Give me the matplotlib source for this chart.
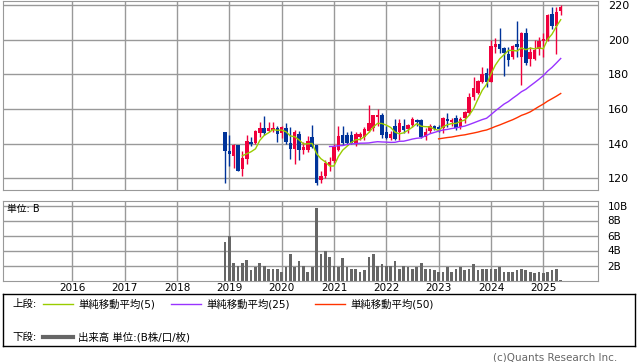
import matplotlib
matplotlib.use("Agg")
import matplotlib.pyplot as plt
import numpy as np
import pandas as pd

plt.rcParams['font.family'] = ['DejaVu Sans', 'Noto Sans CJK JP']

# monthly bars, Dec 2018 .. May 2025
months = pd.date_range('2018-12-01', periods=78, freq='MS')

opens = [146.5, 135.5, 133, 139, 125.5, 131, 141, 140.5, 146, 149, 147.3, 148, 149,
         146, 149, 140.4, 137, 145.6, 136.3, 136.3, 143.8, 139, 119, 121.5, 127.5,
         130, 136.5, 145, 144.8, 145, 140.6, 143.7, 144, 147.5, 149.2, 155.6, 156.5,
         146.5, 143.4, 150.4, 146.5, 150.2, 148.4, 150.6, 153.6, 153.6, 144, 147.3, 150.2,
         149.8, 148.8, 154, 152.5, 154.6, 149.4, 154.6, 157.5, 166.7, 169, 175.8, 181,
         175.8, 196, 197.5, 195, 191.7, 189.8, 197.5, 189.8, 203.6, 188.6, 188.6, 194.4, 199.4,
         199.4, 214.8, 208, 216.5]
highs = [146.8, 145, 140, 139.5, 136, 145, 144, 148, 152.5, 156, 152.5, 152.5, 150,
         150.2, 152, 149.6, 148, 147.3, 141, 144.4, 150.8, 139.5, 124, 130.5, 132.5,
         140, 150, 150.2, 147, 147.5, 146.7, 147, 149.4, 162.3, 156.5, 160, 157.5,
         150.2, 147.3, 154, 154.5, 154, 151.5, 155.5, 154.5, 154.5, 148.8, 151.3, 151,
         150.8, 155.2, 157.5, 155, 156.5, 155.5, 159, 169, 178.3, 176.8, 184, 183.5,
         199.8, 201, 206.5, 196, 196, 197, 211, 204.6, 206.5, 196, 200, 201.5, 203.6,
         214.8, 219, 219, 220]
lows = [117.5, 127, 126, 124, 121.5, 128, 138.5, 140, 144, 145, 146.5, 147, 141,
        143.4, 139.8, 131, 128.3, 130.6, 134, 135.3, 137.5, 116, 117.5, 120, 124.5,
        128.7, 135.5, 139.5, 139, 139.8, 138.8, 142, 142.3, 147, 147.5, 150, 143,
        142.5, 142, 142, 142, 146, 146, 149.8, 150.4, 143, 142, 146, 147.6,
        147, 146, 149.8, 150, 148, 148.5, 152, 156.5, 165.2, 168.5, 175, 172.5,
        175.5, 192.5, 192.1, 179, 184.8, 189, 190.2, 173.8, 185.4, 184.8, 188, 191, 190,
        199, 206, 192, 214]
closes = [136, 134, 139, 124.5, 131.7, 141.5, 140, 147.3, 149, 146, 149, 149, 145.6,
          149.6, 141, 137, 146.7, 136.4, 138, 141.5, 138, 117.5, 121.5, 129, 129.5,
          138, 144.5, 140.2, 140.2, 140.6, 145.6, 145.6, 148.2, 151.9, 156.3, 156.5, 145.2,
          143.4, 145.4, 142.7, 151.7, 148, 151, 154.4, 152.7, 144, 146.9, 150.2, 148.4,
          148.4, 154.6, 153, 153.5, 148.8, 154.4, 158.3, 167.1, 171.9, 176.3, 180.2, 175.8,
          196.5, 197.5, 194.6, 192.1, 188.3, 196.3, 196, 203.6, 186.7, 193.1, 194, 199.4, 200.2,
          214.2, 207.9, 216.2, 219]
# volume, unit B
volume = [5.2,
          5.9, 2.3, 1.95, 2.4, 2.8, 1.4, 1.8, 2.4, 2.0, 1.6, 1.6, 1.5,
          1.1, 1.8, 3.5, 1.8, 2.6, 1.95, 1.2, 1.8, 9.7, 3.5, 3.9, 3.1,
          2.0, 1.8, 3.0, 1.8, 1.6, 1.6, 1.2, 1.4, 3.1, 3.6, 2.0, 2.2,
          1.9, 2.0, 2.6, 1.6, 1.9, 1.8, 1.5, 1.8, 2.3, 1.6, 1.6, 1.4,
          1.2, 1.2, 1.8, 1.1, 1.6, 1.8, 1.4, 1.6, 2.2, 1.4, 1.6, 1.5,
          1.6, 1.6, 1.8, 1.2, 1.2, 1.15, 1.4, 1.6, 1.4, 1.2, 1.0, 1.1,
          1.0, 1.15, 1.4, 1.5, 0.1]

years = list(range(2016, 2026))
price_ticks = [120, 140, 160, 180, 200, 220]
vol_ticks = [2, 4, 6, 8, 10]
vol_labels = ['2B', '4B', '6B', '8B', '10B']

W, H = 638, 362
RED = '#f0003c'
BLUE = '#003399'
GRID = '#999999'


def box(x0, y0, x1, y1):
    return [x0 / W, 1 - y1 / H, (x1 - x0) / W, (y1 - y0) / H]


x = np.arange(len(months))
o, h, l, c = map(np.array, (opens, highs, lows, closes))
cols = np.where(c >= o, RED, BLUE)
# month index of each January (Dec 2018 = 0)
year_x = [(y - months[0].year) * 12 + 1 - months[0].month for y in years]

fig = plt.figure(figsize=(W / 100, H / 100), dpi=100)

# price panel
ax = fig.add_axes(box(3, 1, 598, 190))
ax.set_xlim(-50.9, 85.55)
ax.set_ylim(113.25, 222.3)
for yv in price_ticks:
    ax.axhline(yv, color=GRID, lw=1, zorder=0)
for xv in year_x:
    ax.axvline(xv, color=GRID, lw=1, zorder=0)
ax.vlines(x, l, h, colors=cols, lw=1, zorder=2)
ax.bar(x, np.maximum(np.abs(c - o), 0.35), bottom=np.minimum(o, c), width=0.8,
       color=cols, zorder=3)
cs = pd.Series(c)
ax.plot(x, cs.rolling(5).mean(), color='#99cc00', lw=1, zorder=4)
ax.plot(x, cs.rolling(25).mean(), color='#9933ff', lw=1, zorder=4)
ax.plot(x, cs.rolling(50).mean(), color='#ff3300', lw=1, zorder=4)
ax.yaxis.tick_right()
ax.set_yticks(price_ticks)
ax.set_yticklabels([str(t) for t in price_ticks], fontsize=8)
ax.tick_params(axis='y', length=0, pad=7)
ax.set_xticks([])
for s in ax.spines.values():
    s.set_color(GRID)

# volume panel
av = fig.add_axes(box(3, 201, 598, 280.5))
av.set_xlim(-50.9, 85.55)
av.set_ylim(0, 10.6)
for yv in vol_ticks:
    av.axhline(yv, color=GRID, lw=1, zorder=0)
for xv in year_x:
    av.axvline(xv, color=GRID, lw=1, zorder=0)
av.bar(x, volume, width=0.62, color='#666666', zorder=2)
av.yaxis.tick_right()
av.set_yticks(vol_ticks)
av.set_yticklabels(vol_labels, fontsize=7.5)
av.tick_params(axis='y', length=0, pad=7)
av.set_xticks(year_x)
av.set_xticklabels([str(y) for y in years], fontsize=7.5)
av.tick_params(axis='x', length=0, pad=2)
for s in av.spines.values():
    s.set_color(GRID)
fig.text(7 / W, 1 - 209 / H, '単位: B', fontsize=7, va='center')

# legend box
lg = fig.add_axes(box(3, 294, 635, 346))
lg.set_xlim(3, 635)
lg.set_ylim(346, 294)
lg.set_xticks([])
lg.set_yticks([])
for s in lg.spines.values():
    s.set_color('black')
    s.set_linewidth(1)
fs = 7.5
lg.text(12, 304, '上段:', fontsize=fs, va='center')
lg.plot([43, 73], [304, 304], color='#99cc00', lw=1)
lg.text(78, 304, '単純移動平均(5)', fontsize=fs, va='center')
lg.plot([171, 201], [304, 304], color='#9933ff', lw=1)
lg.text(206, 304, '単純移動平均(25)', fontsize=fs, va='center')
lg.plot([315, 345], [304, 304], color='#ff3300', lw=1)
lg.text(350, 304, '単純移動平均(50)', fontsize=fs, va='center')
lg.text(12, 337, '下段:', fontsize=fs, va='center')
lg.plot([43, 73], [337, 337], color='#666666', lw=3)
lg.text(78, 337, '出来高 単位:(B株/口/枚)', fontsize=fs, va='center')

fig.text(617 / W, 1 - 357 / H, '(c)Quants Research Inc.', fontsize=7.5,
         color='#666666', ha='right', va='center')

fig.savefig('out.png', dpi=100)
